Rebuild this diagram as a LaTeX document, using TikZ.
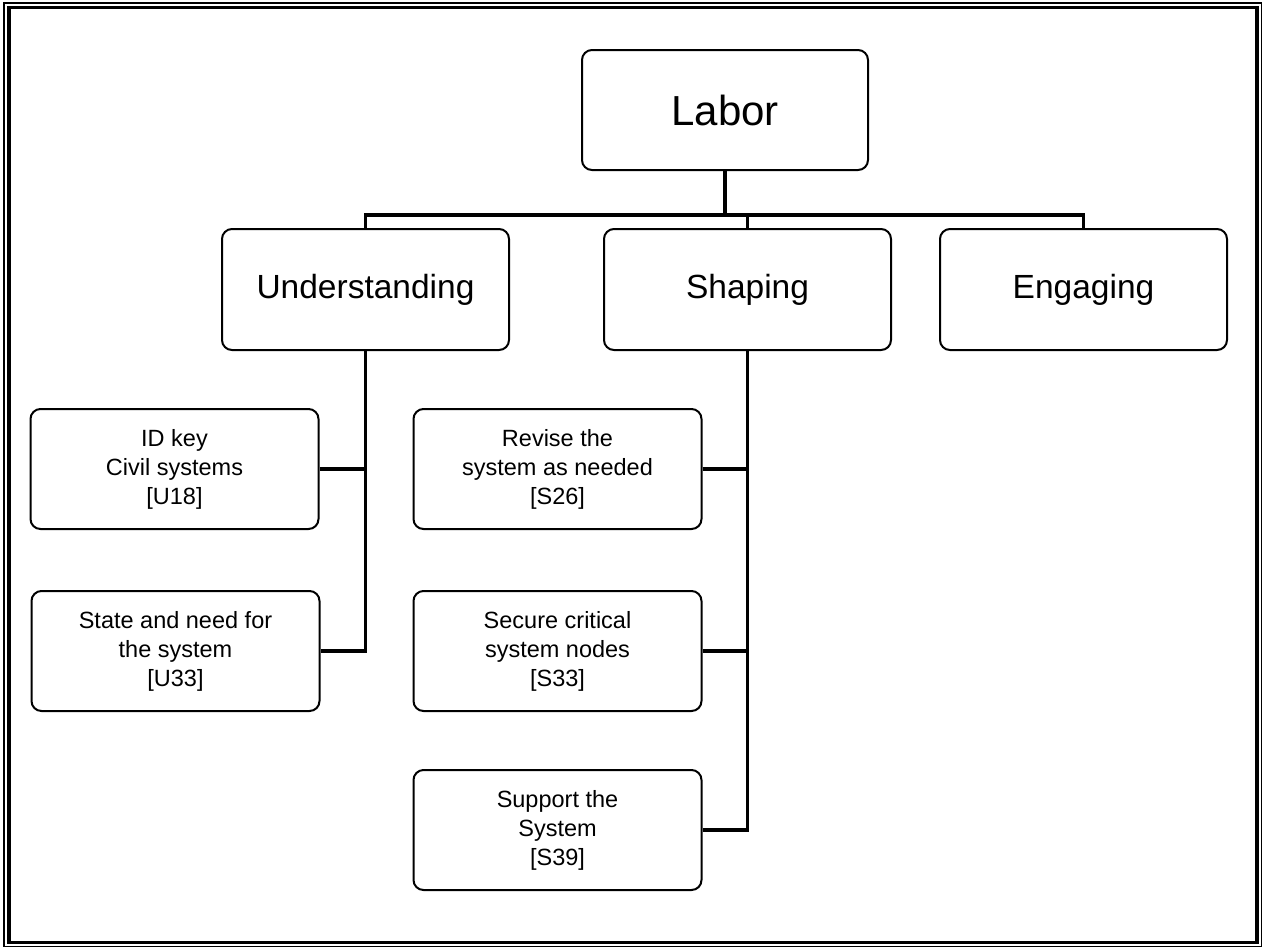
\documentclass[tikz,border=0pt]{standalone}
\usepackage{fontspec}
\setmainfont{Liberation Sans}
\usepackage{tikz}
\usetikzlibrary{calc}
\tikzset{
 box/.style={draw, line width=1pt, rounded corners=5pt, align=center, inner sep=2pt},
 topbox/.style={box, minimum width=143pt, minimum height=60pt, font=\fontsize{21}{25}\selectfont},
 midbox/.style={box, minimum width=143.5pt, minimum height=60.5pt, font=\fontsize{16.75}{20}\selectfont},
 subbox/.style={box, minimum width=144pt, minimum height=60pt, font=\fontsize{11.75}{14.5}\selectfont},
 link/.style={draw, line width=1.9pt}
}

\begin{document}
\begin{tikzpicture} [x=0.5pt, y=-0.5pt]
\useasboundingbox (0,0) rectangle (1264,949);
\draw[line width=0.75pt] (4,3) rectangle (1261.5,946.5);
\draw[line width=1.75pt] (9,7.5) rectangle (1257,942.5);

\node[topbox] (labor) at (725,110) {Labor};
\node[midbox] (understanding) at (365.5,289.5) {Understanding};
\node[midbox] (shaping) at (747.5,289.5) {Shaping};
\node[midbox] (engaging) at (1083.5,289.5) {Engaging};

\node[subbox] (idkey) at (174.5,469) {ID key\\Civil systems\\{[U18]}};
\node[subbox] (state) at (175.5,651) {State and need for\\the system\\{[U33]}};
\node[subbox] (revise) at (557.5,469) {Revise the\\system as needed\\{[S26]}};
\node[subbox] (secure) at (557.5,651) {Secure critical\\system nodes\\{[S33]}};
\node[subbox] (support) at (557.5,830) {Support the\\System\\{[S39]}};

\coordinate (bus) at (725,215);
\draw[link] (labor.south) -- (bus);
\draw[link] (understanding.north) -- (understanding.north |- bus) -- (engaging.north |- bus) -- (engaging.north);
\draw[link] (shaping.north) -- (shaping.north |- bus);

\draw[link] (understanding.south) |- (state.east);
\draw[link] (idkey.east) -- (idkey.east -| understanding.south);
\draw[link] (shaping.south) |- (support.east);
\foreach \n in {revise,secure}
 \draw[link] (\n.east) -- (\n.east -| shaping.south);
\end{tikzpicture}
\end{document}
